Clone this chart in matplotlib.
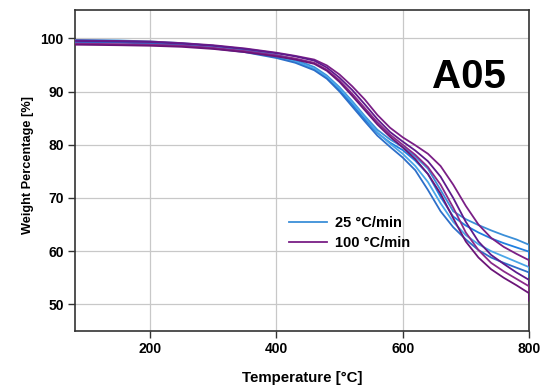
import matplotlib
matplotlib.use('Agg')
import matplotlib.pyplot as plt

plt.rcParams['font.family'] = ['Liberation Sans', 'DejaVu Sans']
plt.rcParams['font.weight'] = 'bold'

# temperature grid shared by all runs (last point repeated for the end drop)
temps = [80, 150, 200, 250, 300, 350, 400, 430, 460, 480, 500, 520, 540, 560,
         580, 600, 620, 640, 660, 680, 700, 720, 740, 760, 780, 800, 800]

# 25 °C/min runs
blue_runs = [
    [99.7, 99.6, 99.4, 99.1, 98.6, 97.9, 96.9, 96.0, 94.6, 93.0, 90.8, 88.2, 85.4, 82.8,
     81.0, 79.6, 77.8, 75.5, 71.5, 67.5, 66.0, 64.9, 63.9, 63.0, 62.2, 61.2, 60.3],
    [99.5, 99.4, 99.2, 98.9, 98.4, 97.7, 96.6, 95.7, 94.2, 92.6, 90.3, 87.6, 84.8, 82.2,
     80.4, 79.0, 77.0, 74.5, 70.2, 66.5, 64.8, 63.5, 62.4, 61.5, 60.7, 59.9, 58.8],
    [99.4, 99.3, 99.1, 98.8, 98.3, 97.6, 96.5, 95.6, 94.3, 92.8, 90.6, 88.0, 85.2, 82.3,
     80.2, 78.3, 76.0, 73.0, 69.0, 65.5, 63.0, 61.3, 60.0, 59.0, 58.0, 57.0, 56.0],
    [99.3, 99.2, 99.0, 98.7, 98.1, 97.4, 96.3, 95.4, 94.0, 92.4, 90.0, 87.2, 84.4, 81.7,
     79.6, 77.6, 75.2, 71.5, 67.5, 64.5, 62.2, 60.2, 58.8, 57.8, 56.9, 56.0, 55.2],
]
blue_colors = ['#3b8fd8', '#1f7fe0', '#4aa6e8', '#2d6fc9']

# 100 °C/min runs
purple_runs = [
    [99.6, 99.5, 99.4, 99.1, 98.7, 98.1, 97.3, 96.7, 96.0, 94.9, 93.2, 91.0, 88.5, 85.6,
     83.2, 81.4, 79.9, 78.3, 76.0, 72.5, 68.5, 65.0, 62.5, 60.8, 59.5, 58.3, 57.3],
    [99.5, 99.4, 99.3, 99.0, 98.6, 98.0, 97.2, 96.6, 95.8, 94.5, 92.6, 90.3, 87.6, 84.8,
     82.4, 80.6, 78.9, 76.9, 74.0, 70.0, 65.5, 61.8, 59.3, 57.6, 56.0, 54.6, 53.4],
    [99.0, 98.9, 98.8, 98.6, 98.2, 97.6, 96.8, 96.2, 95.4, 94.1, 92.1, 89.6, 86.9, 84.2,
     81.9, 80.0, 78.1, 75.8, 72.5, 68.2, 63.5, 60.2, 57.8, 56.2, 54.8, 53.4, 52.3],
    [98.8, 98.7, 98.6, 98.4, 98.0, 97.4, 96.6, 96.0, 95.2, 93.9, 91.8, 89.2, 86.5, 83.8,
     81.5, 79.5, 77.3, 74.5, 70.8, 66.2, 61.8, 58.8, 56.6, 55.0, 53.6, 52.1, 50.7],
]
purple_colors = ['#7a1f86', '#5e1a8c', '#8a2a8a', '#6b1478']

fig = plt.figure(figsize=(5.42, 3.88), dpi=100)
ax = fig.add_axes([0.138, 0.147, 0.838, 0.827])

for i, (w, c) in enumerate(zip(blue_runs, blue_colors)):
    ax.plot(temps, w, color=c, lw=1.3, label='25 °C/min' if i == 0 else None, zorder=3)
for i, (w, c) in enumerate(zip(purple_runs, purple_colors)):
    ax.plot(temps, w, color=c, lw=1.3, label='100 °C/min' if i == 0 else None, zorder=3)

ax.set_xlim(81, 800)
ax.set_ylim(45, 105.3)
ax.set_xticks([200, 400, 600, 800])
ax.set_yticks([50, 60, 70, 80, 90, 100])
ax.grid(True, color='#c8c8c8', lw=0.9)
ax.set_axisbelow(True)
for s in ax.spines.values():
    s.set_color('#333333')
    s.set_linewidth(1.2)
ax.tick_params(axis='both', direction='out', length=5, width=1, color='#333333',
               labelsize=10, pad=3)
for lab in ax.get_xticklabels() + ax.get_yticklabels():
    lab.set_fontweight('bold')

ax.set_xlabel('Temperature [°C]', fontsize=10.8, fontweight='bold', labelpad=11)
ax.set_ylabel('Weight Percentage [%]', fontsize=9.2, fontweight='bold')
ax.yaxis.set_label_coords(-0.09, 0.517)

ax.text(705, 92.8, 'A05', fontsize=29, fontweight='bold', ha='center', va='center')

leg = ax.legend(loc='upper left', bbox_to_anchor=(0.442, 0.40), frameon=False,
                prop={'size': 10.5, 'weight': 'bold'}, handlelength=2.6,
                handletextpad=0.6, labelspacing=0.42)

fig.savefig('out.png', dpi=100)
